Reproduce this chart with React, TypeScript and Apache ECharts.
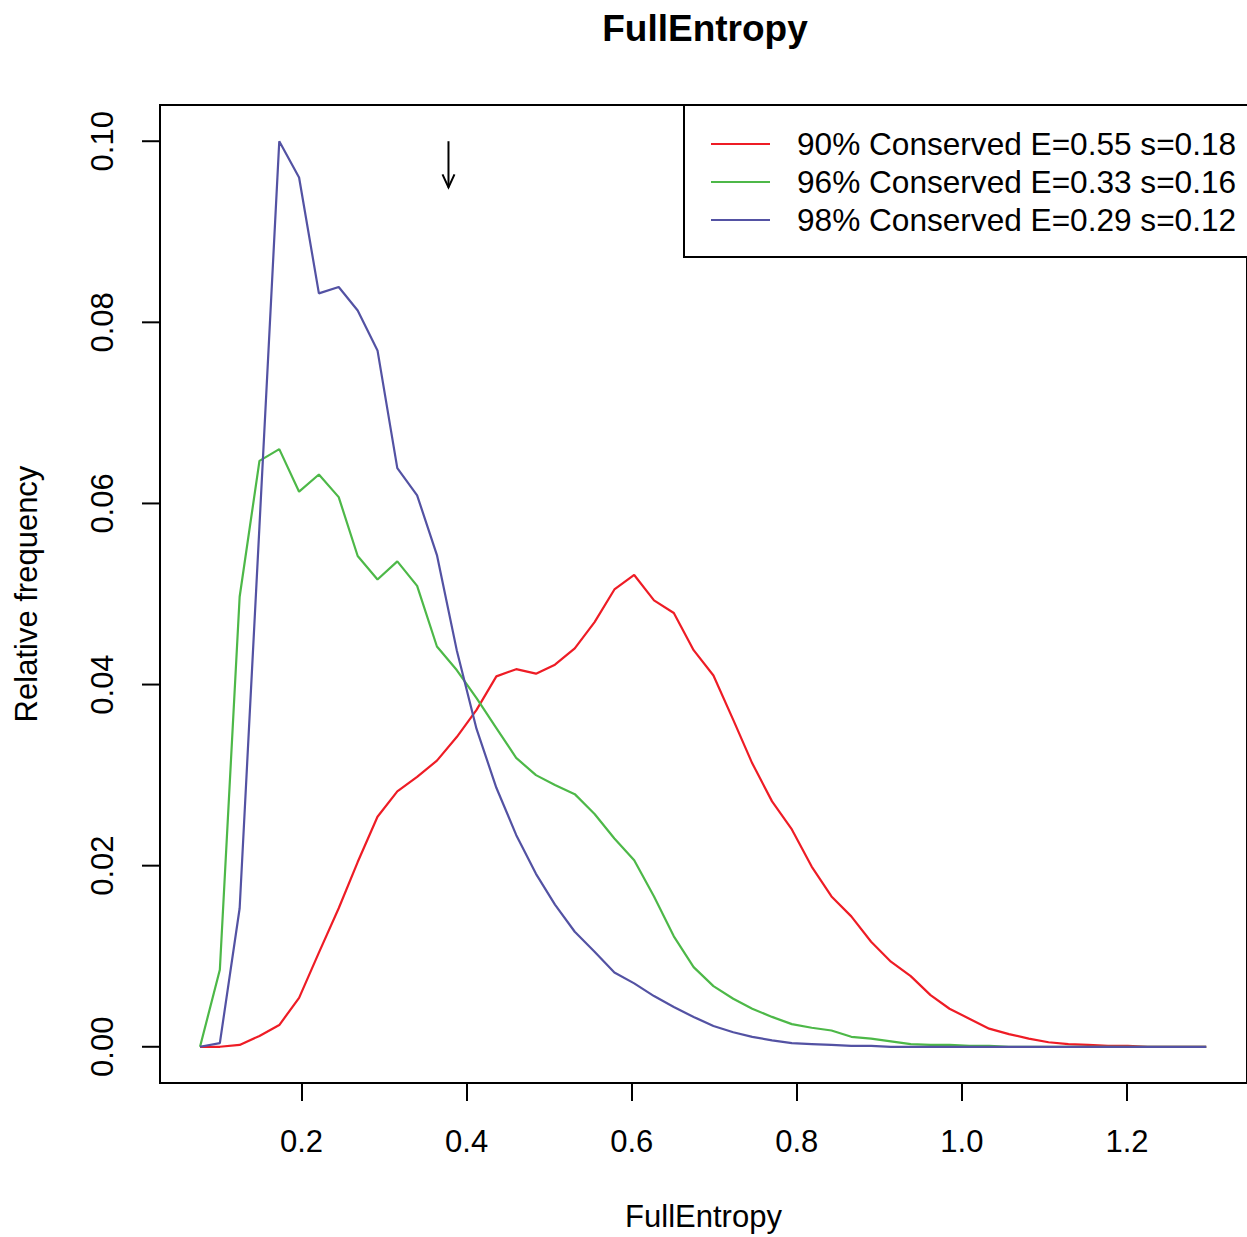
import React, { useEffect, useRef } from "react";
import * as echarts from "echarts";

const xValues = [
  0.077, 0.101, 0.125, 0.149, 0.173, 0.197, 0.221, 0.245, 0.268, 0.292,
  0.316, 0.34, 0.364, 0.388, 0.412, 0.436, 0.46, 0.484, 0.507, 0.531,
  0.555, 0.579, 0.603, 0.627, 0.651, 0.675, 0.699, 0.723, 0.746, 0.77,
  0.794, 0.818, 0.842, 0.866, 0.89, 0.914, 0.938, 0.962, 0.985, 1.009,
  1.033, 1.057, 1.081, 1.105, 1.129, 1.153, 1.177, 1.201, 1.225, 1.248,
  1.272, 1.296,
];

const red90 = [
  0, 0, 0.0002, 0.0012, 0.0024, 0.0054, 0.0104, 0.0153, 0.0204, 0.0254,
  0.0282, 0.0298, 0.0316, 0.0342, 0.0372, 0.0409, 0.0417, 0.0412, 0.0422, 0.044,
  0.0469, 0.0505, 0.0521, 0.0493, 0.0479, 0.0438, 0.041, 0.0361, 0.0313, 0.0271,
  0.024, 0.0199, 0.0166, 0.0144, 0.0116, 0.0094, 0.0078, 0.0057, 0.0042, 0.0031,
  0.002, 0.0014, 0.0009, 0.0005, 0.0003, 0.0002, 0.0001, 0.0001, 0, 0,
  0, 0,
];

const green96 = [
  0, 0.0085, 0.0497, 0.0647, 0.066, 0.0613, 0.0632, 0.0607, 0.0542, 0.0516,
  0.0536, 0.0509, 0.0442, 0.0416, 0.0385, 0.0352, 0.0319, 0.03, 0.0289, 0.0279,
  0.0257, 0.023, 0.0206, 0.0166, 0.0122, 0.0088, 0.0067, 0.0053, 0.0042, 0.0033,
  0.0025, 0.0021, 0.0018, 0.0011, 0.0009, 0.0006, 0.0003, 0.0002, 0.0002, 0.0001,
  0.0001, 0, 0, 0, 0, 0, 0, 0, 0, 0,
  0, 0,
];

const purple98 = [
  0, 0.0004, 0.0153, 0.0575, 0.1, 0.096, 0.0832, 0.0839, 0.0813, 0.0769,
  0.0639, 0.0609, 0.0543, 0.0438, 0.0351, 0.0286, 0.0234, 0.0191, 0.0157, 0.0127,
  0.0105, 0.0082, 0.007, 0.0056, 0.0044, 0.0033, 0.0023, 0.0016, 0.0011, 0.0007,
  0.0004, 0.0003, 0.0002, 0.0001, 0.0001, 0, 0, 0, 0, 0,
  0, 0, 0, 0, 0, 0, 0, 0, 0, 0,
  0, 0,
];

const seriesNames = [
  "90% Conserved E=0.55 s=0.18",
  "96% Conserved E=0.33 s=0.16",
  "98% Conserved E=0.29 s=0.12",
];
const seriesColors = ["#EE1C25", "#4DB848", "#5352A3"];

const xTicks = [0.2, 0.4, 0.6, 0.8, 1.0, 1.2];
const yTicks = [0, 0.02, 0.04, 0.06, 0.08, 0.1];

const X_MIN = 0.0285;
const X_MAX = 1.3454;
const Y_MIN = -0.004;
const Y_MAX = 0.104;

// arrow annotation: [x, yFrom, yTo]
const arrowData = [[0.378, 0.1, 0.0949]];

const FONT = "Liberation Sans, Arial, Helvetica, sans-serif";

function pairs(xs: number[], ys: number[]) {
  return xs.map((x, i) => [x, ys[i]]);
}

export default function App() {
  const ref = useRef<HTMLDivElement>(null);

  useEffect(() => {
    if (!ref.current) return;
    const chart = echarts.init(ref.current, null, { renderer: "svg" });
    const allSeries = [red90, green96, purple98];

    const option: any = {
      animation: false,
      backgroundColor: "#ffffff",
      title: {
        text: "FullEntropy",
        left: 705,
        top: 10,
        padding: 0,
        textAlign: "center",
        textStyle: {
          fontFamily: FONT,
          fontSize: 37,
          fontWeight: "bold",
          color: "#000",
        },
      },
      legend: {
        orient: "vertical",
        left: 684,
        top: 105,
        data: seriesNames,
        icon: "rect",
        padding: [23, 20, 21, 27],
        itemGap: 6,
        itemWidth: 59,
        itemHeight: 2.2,
        borderColor: "#000",
        borderWidth: 2,
        backgroundColor: "#fff",
        selectedMode: false,
        textStyle: {
          fontFamily: FONT,
          fontSize: 31.6,
          lineHeight: 31,
          color: "#000",
          padding: [0, 0, 0, 22],
        },
      },
      grid: {
        left: 160,
        top: 105,
        width: 1093,
        height: 978,
        show: true,
        borderColor: "#000",
        borderWidth: 2,
        backgroundColor: "transparent",
      },
      xAxis: {
        type: "value",
        position: "bottom",
        min: X_MIN,
        max: X_MAX,
        name: "FullEntropy",
        nameLocation: "middle",
        nameGap: 118,
        nameTextStyle: { fontFamily: FONT, fontSize: 31, color: "#000" },
        axisLine: { show: true, onZero: false, lineStyle: { color: "#000", width: 2 } },
        splitLine: { show: false },
        axisTick: {
          show: true,
          inside: false,
          length: 18,
          customValues: xTicks,
          lineStyle: { color: "#000", width: 2 },
        },
        axisLabel: {
          customValues: xTicks,
          margin: 43,
          fontFamily: FONT,
          fontSize: 31,
          color: "#000",
          formatter: (v: number) => v.toFixed(1),
        },
      },
      yAxis: {
        type: "value",
        position: "left",
        min: Y_MIN,
        max: Y_MAX,
        name: "Relative frequency",
        nameLocation: "middle",
        nameGap: 118,
        nameTextStyle: { fontFamily: FONT, fontSize: 31, color: "#000" },
        axisLine: { show: true, onZero: false, lineStyle: { color: "#000", width: 2 } },
        splitLine: { show: false },
        axisTick: { show: false },
        axisLabel: {
          customValues: yTicks,
          rotate: 90,
          margin: 42,
          fontFamily: FONT,
          fontSize: 31,
          color: "#000",
          formatter: (v: number) => v.toFixed(2),
        },
      },
      series: [
        ...seriesNames.map((name, k) => ({
          name,
          type: "line",
          data: pairs(xValues, allSeries[k]),
          symbol: "none",
          color: seriesColors[k],
          lineStyle: { color: seriesColors[k], width: 2.2 },
          itemStyle: { color: seriesColors[k] },
        })),
        {
          type: "custom",
          name: "yTicks",
          data: yTicks.map((v) => [X_MIN, v]),
          encode: { x: 0, y: 1 },
          silent: true,
          clip: false,
          renderItem: (params: any, api: any) => {
            const p = api.coord([api.value(0), api.value(1)]);
            return {
              type: "line",
              shape: { x1: p[0] - 18, y1: p[1], x2: p[0], y2: p[1] },
              style: { stroke: "#000", lineWidth: 2 },
            };
          },
        },
        {
          type: "custom",
          name: "arrow",
          data: arrowData,
          silent: true,
          renderItem: (params: any, api: any) => {
            const x = api.value(0);
            const p1 = api.coord([x, api.value(1)]);
            const p2 = api.coord([x, api.value(2)]);
            return {
              type: "group",
              children: [
                {
                  type: "line",
                  shape: { x1: p1[0], y1: p1[1], x2: p2[0], y2: p2[1] },
                  style: { stroke: "#000", lineWidth: 2 },
                },
                {
                  type: "polyline",
                  shape: {
                    points: [
                      [p2[0] - 6, p2[1] - 13],
                      [p2[0], p2[1]],
                      [p2[0] + 6, p2[1] - 13],
                    ],
                  },
                  style: { stroke: "#000", lineWidth: 2, fill: "none" },
                },
              ],
            };
          },
        },
      ],
    };

    chart.setOption(option);
    return () => {
      chart.dispose();
    };
  }, []);

  return (
    <div
      ref={ref}
      style={{
        position: "absolute",
        left: 0,
        top: 0,
        width: 1247,
        height: 1237,
        overflow: "hidden",
        background: "#fff",
      }}
    />
  );
}
